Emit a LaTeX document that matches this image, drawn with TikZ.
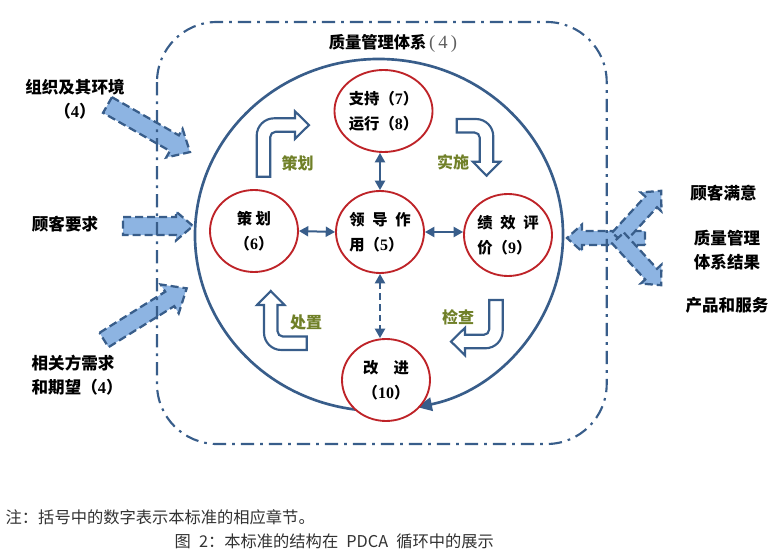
\documentclass[tikz,border=0pt]{standalone}
\usepackage{fontspec}
\setmainfont{Noto Sans CJK SC}
\newfontfamily\numfont{Liberation Serif}
\usepackage{tikz}
\usepackage{xcolor}
\usetikzlibrary{arrows.meta,shapes.geometric,positioning}

\definecolor{frameblue}{RGB}{56,93,138}
\definecolor{arrowfill}{RGB}{141,180,226}
\definecolor{stepred}{RGB}{190,35,40}
\definecolor{pdcagreen}{RGB}{112,128,40}
\definecolor{notegray}{RGB}{95,95,95}
\definecolor{captiongray}{RGB}{50,50,50}

\tikzset{
  clause/.style={ellipse, draw=stepred, fill=white, line width=1.4pt, minimum width=66pt, minimum height=61.5pt, inner sep=0pt, align=left, font=\bfseries\fontsize{11.5}{18.75}\selectfont},
  bendline/.style={draw=frameblue, fill=white, line width=1.6pt},
  inflow/.style={draw=frameblue, fill=arrowfill, line width=1.7pt, dash pattern=on 6pt off 3pt},
  frameline/.style={draw=frameblue, line width=1.6pt, rounded corners=45pt, dash pattern=on 10pt off 4.5pt on 2pt off 4.5pt},
  cycleline/.style={draw=frameblue, line width=2pt, -{Triangle[length=11pt,width=10pt]}},
  link/.style={draw=frameblue, line width=1.5pt, {Triangle[length=7pt,width=7.5pt]}-{Triangle[length=7pt,width=7.5pt]}},
  outer/.style={font=\bfseries\fontsize{12.4}{18}\selectfont, align=center},
  phase/.style={text=pdcagreen, font=\bfseries\fontsize{12}{14}\selectfont},
  caption/.style={text=captiongray, anchor=west, font=\fontsize{12.2}{14}\selectfont}
}

% straight block arrow: tail point, angle, length, shaft half width, head half width, head length
\newcommand{\blockarrow}[6]{%
  \begin{scope}[shift={(#1)},rotate=#2]
    \draw[inflow] (0,-#4) -- ({#3-#6},-#4) -- ({#3-#6},-#5) -- (#3,0) -- ({#3-#6},#5) -- ({#3-#6},#4) -- (0,#4) -- cycle;
  \end{scope}}

% bent block arrow: outer corner, rotation, tail length, head base
\newcommand{\bendarrow}[4]{%
  \begin{scope}[shift={(#1)},rotate=#2]
    \draw[bendline] (0,#3) [rounded corners=13pt] -- (0,0) [sharp corners] -- (#4,0) -- (#4,-7) -- ({#4+14},6.75) -- (#4,20.5) -- (#4,13.5) [rounded corners=4pt] -- (13.5,13.5) [sharp corners] -- (13.5,#3) -- cycle;
  \end{scope}}

\begin{document}
\begin{tikzpicture}[x=0.75pt,y=0.75pt,yscale=-1,xscale=1]
\useasboundingbox (0,0) rectangle (779,553);

%Block Arrows [inputs]
\blockarrow{107.5,105}{29.7}{95}{9}{16.5}{18}
\blockarrow{123,226}{0}{70}{9}{14.5}{17}
\blockarrow{104,340}{-32}{97.5}{8.5}{17}{20}
%Block Arrows [outputs]
\blockarrow{645,238}{180}{78}{7}{13.5}{15}
\blockarrow{618,238}{-47.5}{64}{8}{14}{15}
\blockarrow{618,238}{47.5}{64}{8}{14}{15}

%Rounded Rect [frame]
\draw[frameline] (157,22) rectangle (606.7,444);

%Arc [cycle]
\coordinate (hub) at (379,235);
\draw[cycleline] ([shift={(97:184 and 176)}]hub) arc[start angle=97, end angle=438, x radius=184, y radius=176];

%Bent Arrows
\bendarrow{256.7,118.3}{0}{58.4}{38.3}
\bendarrow{493.3,119}{90}{36.6}{42.7}
\bendarrow{502.7,348.3}{180}{48.3}{37.7}
\bendarrow{264,350}{270}{42.7}{45}

%Circles
\node[clause] (support) at (383.5,111) {支持（{\numfont\large 7}）\\运行（{\numfont\large 8}）};
\node[clause] (lead) at (380,232) {领\enspace 导\enspace 作\\用（{\numfont\large 5}）};
\node[clause, align=center] (plan) at (254,231) {策 划\\（{\numfont\large 6}）};
\node[clause] (check) at (508,235) {绩\enspace 效\enspace 评\\价（{\numfont\large 9}）};
\node[clause, align=center] (improve) at (386,380) {改\quad 进\\（{\numfont\large 10}）};

%Straight Lines [links]
\draw[link] (lead.north |- support.south) -- (lead.north);
\draw[link] (plan.east) -- (lead.west);
\draw[link] (lead.east) -- (lead.east -| check.west);
\draw[link, dash pattern=on 5pt off 3pt] (lead.south) -- (lead.south |- improve.north);

% Text Node
\node[phase] (planlabel) at (297.5,163) {策划};
\node[phase] (dolabel) at (453,162) {实施};
\node[phase] (checklabel) at (458,317) {检查};
\node[phase] (actlabel) at (306,322) {处置};

% Text Node
\node[font=\bfseries\fontsize{12.2}{14}\selectfont] (qms) at (393,43) {质量管理体系\,{\mdseries\numfont\fontsize{14}{14}\selectfont\color{notegray}(\,4\,)}};

% Text Node
\node[outer] (context) at (75,99) {组织及其环境\\（{\numfont 4}）};
\node[outer] (demand) at (65,224) {顾客要求};
\node[outer, align=left, anchor=west] (parties) at (27,375.5) {相关方需求\\和期望（{\numfont 4}）};
\node[outer] (satisfy) at (723.5,193) {顾客满意};
\node[outer] (results) at (727,250.5) {质量管理\\体系结果};
\node[outer] (products) at (727,305) {产品和服务};

% Text Node
\node[caption] (note) at (1,517) {注：括号中的数字表示本标准的相应章节。};
\node[caption] (figtitle) at (170,541) {图\enspace 2：本标准的结构在\enspace PDCA\enspace 循环中的展示};

\end{tikzpicture}
\end{document}
